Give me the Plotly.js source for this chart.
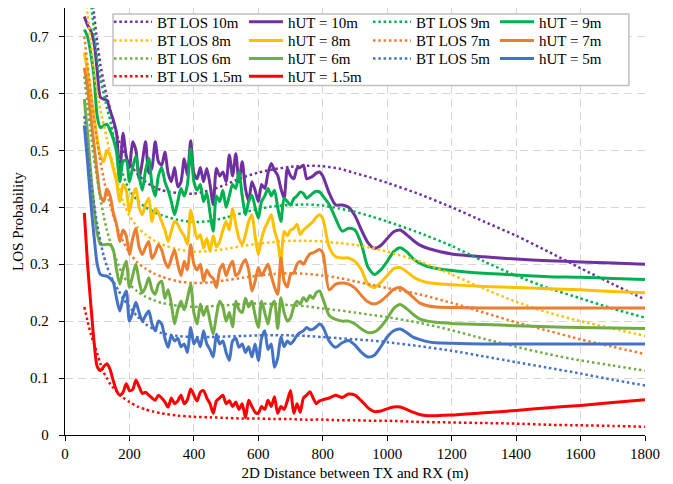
<!DOCTYPE html>
<html>
<head>
<meta charset="utf-8">
<script src="https://cdn.plot.ly/plotly-3.0.1.min.js"></script>
<style>html,body{margin:0;padding:0;background:#fff;}#chart{width:673px;height:484px;}</style>
</head>
<body>
<div id="chart"></div>
<script>
// Distance samples (m) for the Beijing-Tianjin (BT) LOS model curves
const distBT = [60,70,80,90,100,110,120,130,140,150,165,180,200,225,250,275,300,350,400,450,500,550,600,650,700,750,800,850,900,950,1000,1100,1200,1300,1400,1500,1600,1700,1800];
const bt10 = [0.93,0.86,0.795,0.74,0.69,0.65,0.62,0.594,0.572,0.548,0.52,0.5,0.478,0.458,0.445,0.436,0.43,0.425,0.424,0.43,0.44,0.452,0.461,0.467,0.471,0.473,0.472,0.468,0.46,0.452,0.443,0.423,0.40,0.375,0.35,0.322,0.293,0.265,0.238];
const bt9  = [0.9,0.82,0.765,0.71,0.66,0.625,0.6,0.575,0.553,0.525,0.49,0.458,0.43,0.412,0.40,0.392,0.386,0.378,0.374,0.376,0.382,0.39,0.397,0.402,0.404,0.405,0.403,0.398,0.392,0.384,0.375,0.355,0.332,0.305,0.28,0.258,0.24,0.222,0.206];
const bt8  = [0.8,0.74,0.69,0.64,0.6,0.57,0.545,0.52,0.495,0.475,0.44,0.41,0.385,0.365,0.352,0.342,0.335,0.326,0.322,0.323,0.327,0.332,0.336,0.339,0.341,0.341,0.34,0.337,0.334,0.329,0.322,0.305,0.282,0.257,0.234,0.215,0.2,0.187,0.174];
const bt7  = [0.7,0.65,0.6,0.555,0.515,0.48,0.45,0.425,0.405,0.385,0.36,0.34,0.32,0.303,0.292,0.284,0.278,0.27,0.267,0.268,0.272,0.276,0.28,0.283,0.284,0.283,0.28,0.276,0.27,0.264,0.258,0.247,0.232,0.215,0.198,0.183,0.168,0.155,0.142];
const bt6  = [0.63,0.58,0.53,0.485,0.45,0.415,0.385,0.36,0.34,0.322,0.30,0.28,0.265,0.252,0.243,0.237,0.232,0.227,0.225,0.226,0.228,0.23,0.231,0.23,0.228,0.226,0.222,0.219,0.215,0.211,0.207,0.197,0.184,0.169,0.155,0.142,0.131,0.122,0.113];
const bt5  = [0.56,0.5,0.45,0.405,0.37,0.34,0.315,0.297,0.282,0.27,0.255,0.24,0.225,0.208,0.195,0.186,0.179,0.174,0.172,0.172,0.173,0.174,0.175,0.175,0.175,0.174,0.172,0.17,0.168,0.166,0.163,0.156,0.148,0.138,0.128,0.118,0.108,0.097,0.087];
const bt15 = [0.225,0.2,0.178,0.16,0.143,0.125,0.11,0.1,0.09,0.083,0.074,0.066,0.058,0.05,0.045,0.041,0.038,0.034,0.032,0.031,0.03,0.029,0.029,0.028,0.028,0.027,0.027,0.026,0.026,0.025,0.025,0.023,0.022,0.021,0.02,0.018,0.017,0.016,0.0145];

// Distance samples (m) for the measured hUT curves
const distUT = [60,70,80,90,100,110,120,130,140,150,160,170,180,190,200,210,220,230,240,250,260,270,280,290,300,310,320,330,340,350,360,370,380,390,400,410,420,430,440,450,460,470,480,490,500,510,520,530,540,550,560,570,580,590,600,610,620,630,640,650,660,670,680,690,700,710,720,730,740,750,760,770,780,790,800,820,840,860,880,900,920,940,960,980,1000,1020,1040,1060,1080,1100,1125,1150,1200,1300,1400,1500,1600,1700,1800];
const hut10 = [0.735,0.72,0.71,0.69,0.64,0.593,0.59,0.588,0.57,0.553,
 0.53,0.455,0.53,0.49,0.47,0.515,0.5,0.45,0.48,0.515,
 0.46,0.47,0.515,0.48,0.474,0.497,0.46,0.445,0.47,0.436,
 0.445,0.485,0.456,0.517,0.46,0.45,0.47,0.445,0.468,0.44,
 0.405,0.468,0.455,0.462,0.445,0.492,0.455,0.494,0.445,0.48,
 0.433,0.41,0.445,0.43,0.41,0.44,0.433,0.46,0.477,0.465,
 0.456,0.433,0.416,0.468,0.455,0.45,0.468,0.47,0.474,0.45,
 0.452,0.455,0.46,0.462,0.455,
 0.425,0.404,0.404,0.40,0.385,0.36,0.338,0.328,0.333,0.345,0.357,0.36,0.352,0.342,0.334,0.328,0.324,0.318,0.313,0.309,0.306,0.304,0.302,0.30];
const hut9 = [0.712,0.70,0.67,0.63,0.56,0.54,0.543,0.546,0.535,0.52,
 0.497,0.445,0.48,0.483,0.445,0.47,0.49,0.455,0.43,0.465,
 0.486,0.44,0.42,0.455,0.47,0.445,0.43,0.41,0.387,0.41,
 0.433,0.42,0.44,0.503,0.445,0.43,0.44,0.41,0.425,0.39,
 0.358,0.42,0.41,0.43,0.40,0.42,0.44,0.433,0.462,0.42,
 0.387,0.41,0.421,0.40,0.381,0.41,0.42,0.433,0.42,0.43,
 0.40,0.375,0.416,0.41,0.404,0.415,0.42,0.427,0.424,0.416,
 0.42,0.425,0.428,0.427,0.42,
 0.405,0.38,0.358,0.363,0.36,0.335,0.295,0.282,0.29,0.305,0.322,0.329,0.322,0.31,0.302,0.296,0.293,0.289,0.284,0.281,0.278,0.277,0.275,0.273];
const hut8 = [0.672,0.64,0.60,0.56,0.52,0.49,0.48,0.50,0.49,0.468,
 0.445,0.41,0.44,0.43,0.392,0.42,0.433,0.40,0.387,0.405,
 0.416,0.375,0.398,0.39,0.375,0.36,0.34,0.358,0.375,0.37,
 0.358,0.35,0.335,0.395,0.37,0.345,0.352,0.328,0.345,0.323,
 0.35,0.33,0.34,0.36,0.375,0.36,0.398,0.37,0.345,0.335,
 0.352,0.375,0.387,0.35,0.317,0.345,0.363,0.375,0.387,0.36,
 0.34,0.305,0.358,0.35,0.36,0.363,0.37,0.352,0.36,0.365,
 0.37,0.375,0.383,0.387,0.38,
 0.33,0.313,0.311,0.311,0.305,0.29,0.265,0.259,0.268,0.28,0.292,0.294,0.287,0.278,0.272,0.268,0.266,0.264,0.261,0.259,0.257,0.255,0.252,0.25];
const hut7 = [0.645,0.61,0.56,0.51,0.46,0.42,0.41,0.432,0.42,0.39,
 0.37,0.34,0.36,0.35,0.317,0.345,0.363,0.33,0.317,0.33,
 0.34,0.31,0.32,0.334,0.325,0.305,0.294,0.31,0.325,0.30,
 0.28,0.305,0.29,0.334,0.30,0.29,0.30,0.27,0.29,0.28,
 0.275,0.259,0.29,0.30,0.28,0.295,0.305,0.28,0.285,0.30,
 0.308,0.29,0.253,0.27,0.294,0.28,0.29,0.30,0.28,0.26,
 0.247,0.311,0.27,0.26,0.282,0.285,0.30,0.305,0.30,0.31,
 0.318,0.32,0.323,0.326,0.32,
 0.255,0.265,0.267,0.265,0.258,0.245,0.234,0.23,0.235,0.245,0.256,0.259,0.252,0.242,0.232,0.227,0.225,0.224,0.223,0.223,0.223,0.223,0.223,0.223];
const hut6 = [0.59,0.53,0.46,0.40,0.355,0.335,0.334,0.335,0.334,0.325,
 0.29,0.265,0.29,0.305,0.259,0.28,0.30,0.27,0.25,0.26,
 0.276,0.255,0.247,0.265,0.27,0.24,0.255,0.23,0.195,0.22,
 0.235,0.22,0.24,0.265,0.215,0.195,0.23,0.21,0.225,0.20,
 0.177,0.21,0.235,0.225,0.20,0.215,0.19,0.235,0.22,0.215,
 0.24,0.225,0.235,0.21,0.189,0.235,0.215,0.195,0.225,0.235,
 0.187,0.241,0.215,0.20,0.206,0.225,0.235,0.23,0.241,0.235,
 0.245,0.24,0.25,0.253,0.24,
 0.21,0.203,0.20,0.20,0.195,0.186,0.18,0.181,0.19,0.205,0.222,0.229,0.222,0.212,0.204,0.20,0.198,0.196,0.194,0.192,0.19,0.189,0.188,0.187];
const hut5 = [0.544,0.48,0.41,0.35,0.30,0.282,0.28,0.279,0.275,0.268,
 0.24,0.218,0.24,0.253,0.20,0.215,0.233,0.215,0.20,0.21,
 0.218,0.195,0.183,0.20,0.195,0.17,0.154,0.175,0.165,0.17,
 0.155,0.16,0.145,0.189,0.16,0.17,0.155,0.183,0.16,0.15,
 0.137,0.177,0.16,0.165,0.145,0.131,0.165,0.17,0.154,0.16,
 0.145,0.155,0.137,0.16,0.131,0.17,0.183,0.15,0.16,0.119,
 0.135,0.172,0.155,0.165,0.16,0.166,0.175,0.18,0.183,0.189,
 0.185,0.186,0.19,0.195,0.19,
 0.165,0.154,0.162,0.166,0.158,0.145,0.137,0.14,0.155,0.172,0.183,0.186,0.18,0.172,0.168,0.164,0.162,0.161,0.16,0.16,0.16,0.16,0.16,0.16];
const hut15 = [0.39,0.30,0.23,0.165,0.12,0.113,0.12,0.125,0.115,0.095,
 0.078,0.07,0.075,0.09,0.078,0.08,0.096,0.085,0.073,0.075,
 0.07,0.065,0.061,0.07,0.065,0.058,0.049,0.065,0.055,0.06,
 0.07,0.055,0.062,0.081,0.07,0.06,0.075,0.078,0.065,0.055,
 0.038,0.06,0.065,0.07,0.055,0.06,0.05,0.058,0.045,0.055,
 0.03,0.061,0.05,0.04,0.038,0.05,0.045,0.061,0.05,0.067,
 0.038,0.05,0.045,0.06,0.078,0.038,0.055,0.04,0.065,0.07,
 0.076,0.065,0.055,0.06,0.062,
 0.065,0.07,0.066,0.072,0.07,0.06,0.048,0.041,0.042,0.046,0.049,0.049,0.045,0.04,0.036,0.034,0.034,0.035,0.039,0.043,0.048,0.052,0.057,0.062];

const btNames = ['BT LOS 10m','BT LOS 9m','BT LOS 8m','BT LOS 7m','BT LOS 6m','BT LOS 5m','BT LOS 1.5m'];
const utNames = ['hUT = 10m','hUT = 9m','hUT = 8m','hUT = 7m','hUT = 6m','hUT = 5m','hUT = 1.5m'];
const seriesColors = ['#7030A0','#00B050','#FFC000','#ED7D31','#70AD47','#4472C4','#FF0000'];
const btSeries = [bt10, bt9, bt8, bt7, bt6, bt5, bt15];
const utSeries = [hut10, hut9, hut8, hut7, hut6, hut5, hut15];

// legend grid: 4 columns, entries in reading order
const colX = [0.0759, 0.3086, 0.5224, 0.7414];
const rowY = [0.9674, 0.9233, 0.8814, 0.8395];

const FONT = 'Liberation Serif';
const traces = [];
const layout = {
  width: 673, height: 484,
  margin: {l: 65, r: 28, t: 5, b: 49, pad: 0},
  paper_bgcolor: '#ffffff', plot_bgcolor: '#ffffff',
  font: {family: FONT, size: 15, color: '#000'},
  xaxis: {
    range: [0, 1800], tick0: 0, dtick: 200, zeroline: false,
    showline: true, linecolor: '#000', linewidth: 1.3,
    ticks: 'outside', ticklen: 5, tickwidth: 1, tickcolor: '#000',
    showgrid: true, gridcolor: '#d6d6d6', gridwidth: 1.2, griddash: '8px,5px',
    tickfont: {family: FONT, size: 15, color: '#000'},
    title: {text: '2D Distance between TX and RX (m)', font: {family: FONT, size: 15, color: '#000'}, standoff: 6}
  },
  yaxis: {
    range: [0, 0.75], tick0: 0, dtick: 0.1, zeroline: false,
    showline: true, linecolor: '#000', linewidth: 1.3,
    ticks: 'outside', ticklen: 5, tickwidth: 1, tickcolor: '#000',
    showgrid: true, gridcolor: '#d6d6d6', gridwidth: 1.2, griddash: '8px,5px',
    tickfont: {family: FONT, size: 15, color: '#000'},
    ticklabelstandoff: 7, automargin: true,
    title: {text: 'LOS Probability', font: {family: FONT, size: 15, color: '#000'}, standoff: 2}
  },
  // white legend frame: above the grid, below the curves and legend entries
  shapes: [{
    type: 'rect', xref: 'x', yref: 'y',
    x0: 149, x1: 1750, y0: 0.614, y1: 0.7396,
    line: {color: '#bfbfbf', width: 1.5}, fillcolor: '#ffffff', layer: 'between'
  }]
};

let k = 0;
for (let s = 0; s < 7; s++) {
  const pair = [
    {name: btNames[s], x: distBT, y: btSeries[s], dash: '2.5px,2.8px', width: 2.5, iw: 38},
    {name: utNames[s], x: distUT, y: utSeries[s], dash: 'solid', width: 3, iw: 34}
  ];
  for (const p of pair) {
    const legId = 'legend' + (k + 2);
    const row = Math.floor(k / 4), col = k % 4;
    traces.push({
      type: 'scatter', mode: 'lines', name: p.name, x: p.x, y: p.y,
      line: {color: seriesColors[s], width: p.width, dash: p.dash, shape: 'spline', smoothing: 0.7},
      legend: legId, showlegend: true, hoverinfo: 'skip'
    });
    layout[legId] = {
      x: colX[col], y: rowY[row], xanchor: 'left', yanchor: 'middle',
      bgcolor: 'rgba(0,0,0,0)', borderwidth: 0, itemwidth: p.iw,
      font: {family: FONT, size: 15, color: '#000'}
    };
    k++;
  }
}

Plotly.newPlot('chart', traces, layout, {displayModeBar: false});
</script>
</body>
</html>
